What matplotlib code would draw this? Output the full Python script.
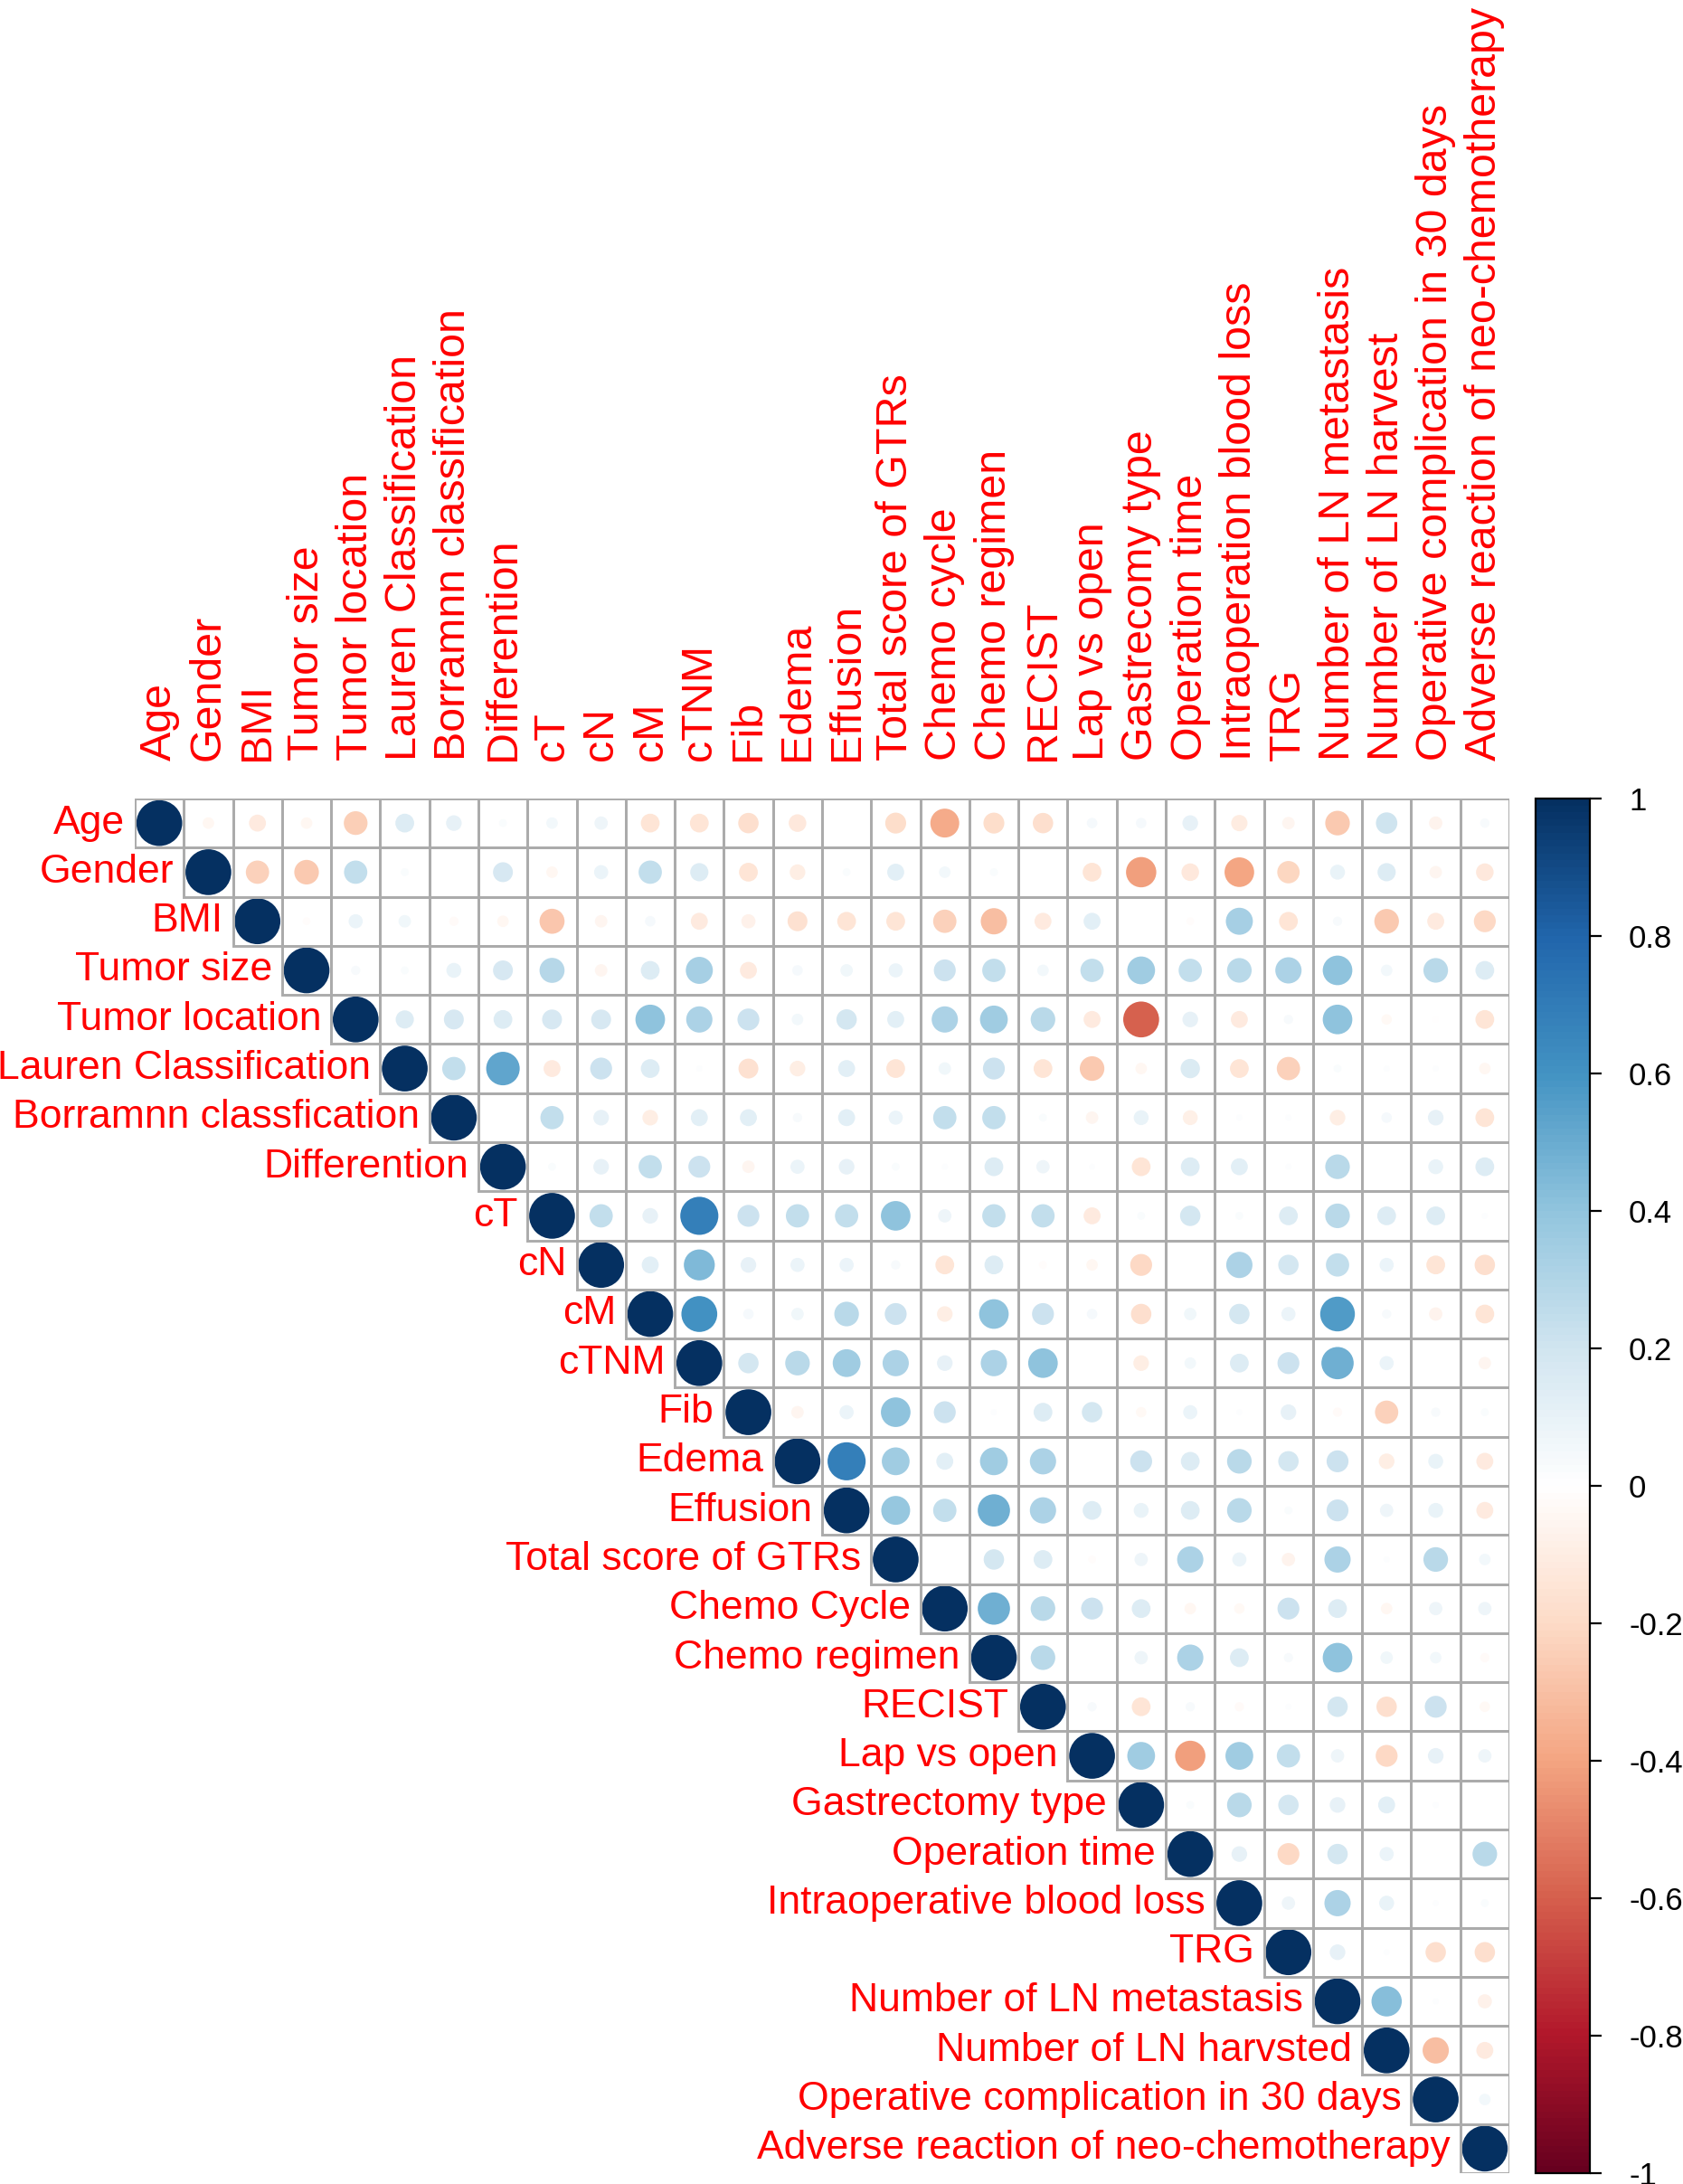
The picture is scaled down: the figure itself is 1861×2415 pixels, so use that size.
import numpy as np
import matplotlib
matplotlib.use("Agg")
import matplotlib.pyplot as plt
from matplotlib.colors import LinearSegmentedColormap, Normalize
from matplotlib.patches import Circle, Rectangle
from matplotlib.cm import ScalarMappable

plt.rcParams['font.family'] = ['Liberation Sans', 'DejaVu Sans']

col_labels = ["Age", "Gender", "BMI", "Tumor size", "Tumor location",
              "Lauren Classification", "Borramnn classification", "Differention",
              "cT", "cN", "cM", "cTNM", "Fib", "Edema", "Effusion",
              "Total score of GTRs", "Chemo cycle", "Chemo regimen", "RECIST",
              "Lap vs open", "Gastrecomy type", "Operation time",
              "Intraoperation blood loss", "TRG", "Number of LN metastasis",
              "Number of LN harvest", "Operative complication in 30 days",
              "Adverse reaction of neo-chemotherapy"]
row_labels = ["Age", "Gender", "BMI", "Tumor size", "Tumor location",
              "Lauren Classification", "Borramnn classfication", "Differention",
              "cT", "cN", "cM", "cTNM", "Fib", "Edema", "Effusion",
              "Total score of GTRs", "Chemo Cycle", "Chemo regimen", "RECIST",
              "Lap vs open", "Gastrectomy type", "Operation time",
              "Intraoperative blood loss", "TRG", "Number of LN metastasis",
              "Number of LN harvsted", "Operative complication in 30 days",
              "Adverse reaction of neo-chemotherapy"]

# upper-triangle correlations: row i lists values for columns i+1 .. 27
upper_rows = [
    [-0.05, -0.12, -0.05, -0.25, 0.15, 0.10, 0.02, 0.05, 0.07, -0.15, -0.15, -0.18, -0.13, 0.0,
     -0.19, -0.38, -0.19, -0.18, 0.04, 0.04, 0.10, -0.11, -0.06, -0.27, 0.20, -0.07, 0.03],
    [-0.24, -0.27, 0.24, 0.02, 0.0, 0.17, -0.05, 0.08, 0.24, 0.14, -0.15, -0.10, 0.02, 0.12,
     0.05, 0.02, 0.0, -0.15, -0.42, -0.13, -0.40, -0.22, 0.09, 0.14, -0.06, -0.13],
    [-0.02, 0.08, 0.06, -0.03, -0.05, -0.28, -0.06, 0.04, -0.12, -0.08, -0.17, -0.15, -0.15,
     -0.24, -0.31, -0.12, 0.12, 0.0, -0.02, 0.33, -0.15, 0.03, -0.27, -0.12, -0.21],
    [0.03, 0.02, 0.09, 0.17, 0.28, -0.06, 0.15, 0.33, -0.12, 0.04, 0.06, 0.08, 0.21, 0.24,
     0.05, 0.24, 0.35, 0.24, 0.27, 0.31, 0.40, 0.05, 0.27, 0.15],
    [0.14, 0.17, 0.15, 0.17, 0.17, 0.40, 0.31, 0.21, 0.05, 0.18, 0.12, 0.31, 0.35, 0.27, -0.12,
     -0.60, 0.10, -0.12, 0.03, 0.40, -0.04, -0.01, -0.15],
    [0.24, 0.52, -0.12, 0.21, 0.15, 0.01, -0.17, -0.10, 0.12, -0.15, 0.06, 0.21, -0.15, -0.27,
     -0.05, 0.16, -0.15, -0.24, 0.02, 0.01, 0.01, -0.05],
    [0.0, 0.24, 0.10, -0.10, 0.12, 0.12, 0.03, 0.12, 0.08, 0.24, 0.24, 0.02, -0.06, 0.09,
     -0.09, 0.01, 0.01, -0.10, 0.04, 0.10, -0.15],
    [0.02, 0.10, 0.24, 0.21, -0.06, 0.08, 0.10, 0.02, 0.01, 0.15, 0.07, 0.01, -0.15, 0.15,
     0.12, 0.01, 0.27, 0.0, 0.09, 0.15],
    [0.24, 0.10, 0.68, 0.21, 0.24, 0.24, 0.40, 0.07, 0.24, 0.24, -0.12, 0.02, 0.18, 0.02, 0.15,
     0.27, 0.15, 0.15, 0.01],
    [0.12, 0.44, 0.10, 0.08, 0.08, 0.03, -0.15, 0.15, -0.02, -0.05, -0.21, 0.0, 0.31, 0.18,
     0.24, 0.08, -0.15, -0.18],
    [0.60, 0.04, 0.06, 0.27, 0.21, -0.10, 0.40, 0.21, 0.04, -0.18, 0.06, 0.18, 0.08, 0.56,
     0.03, -0.07, -0.15],
    [0.18, 0.27, 0.35, 0.31, 0.10, 0.31, 0.40, 0.0, -0.10, 0.05, 0.15, 0.21, 0.48, 0.08, 0.0,
     -0.06],
    [-0.06, 0.08, 0.40, 0.21, 0.01, 0.15, 0.18, -0.04, 0.08, 0.01, 0.10, -0.03, -0.24, 0.03,
     0.02],
    [0.68, 0.35, 0.12, 0.35, 0.31, 0.0, 0.21, 0.15, 0.27, 0.18, 0.21, -0.10, 0.09, -0.12],
    [0.38, 0.24, 0.48, 0.31, 0.15, 0.09, 0.15, 0.27, 0.02, 0.21, 0.07, 0.09, -0.12],
    [0.0, 0.18, 0.15, -0.02, 0.07, 0.31, 0.08, -0.07, 0.31, 0.01, 0.27, 0.05],
    [0.48, 0.27, 0.21, 0.15, -0.05, -0.04, 0.21, 0.15, -0.05, 0.07, 0.07],
    [0.27, 0.0, 0.07, 0.31, 0.15, 0.03, 0.40, 0.06, 0.05, -0.03],
    [0.03, -0.15, 0.03, -0.03, 0.01, 0.18, -0.18, 0.21, -0.04],
    [0.35, -0.42, 0.35, 0.24, 0.07, -0.21, 0.10, 0.07],
    [0.02, 0.27, 0.18, 0.10, 0.12, 0.01, 0.0],
    [0.10, -0.21, 0.18, 0.08, 0.0, 0.27],
    [0.07, 0.31, 0.09, 0.01, 0.02],
    [0.10, 0.01, -0.18, -0.18],
    [0.42, 0.01, -0.08],
    [-0.31, -0.12],
    [0.05],
]

cbar_ticks = [1, 0.8, 0.6, 0.4, 0.2, 0, -0.2, -0.4, -0.6, -0.8, -1]
cbar_ticklabels = ["1", "0.8", "0.6", "0.4", "0.2", "0", "-0.2", "-0.4", "-0.6", "-0.8", "-1"]

n = len(row_labels)
corr = np.eye(n)
for i, vals in enumerate(upper_rows):
    for k, v in enumerate(vals):
        j = i + 1 + k
        corr[i, j] = v
        corr[j, i] = v

cmap = LinearSegmentedColormap.from_list(
    "corrRdBu", ["#67001F", "#B2182B", "#D6604D", "#F4A582", "#FDDBC7", "#FFFFFF",
                 "#D1E5F0", "#92C5DE", "#4393C3", "#2166AC", "#053061"], N=200)
norm = Normalize(-1, 1)

W, H = 1861, 2415
fig = plt.figure(figsize=(W / 100, H / 100), dpi=100)
gx0, gy0, gs = 149, 883, 1520
ax = fig.add_axes([gx0 / W, 1 - (gy0 + gs) / H, gs / W, gs / H])
ax.set_xlim(0, n)
ax.set_ylim(n, 0)
ax.set_aspect('equal')
ax.axis('off')

grid_col = "#ABABAB"
for i in range(n):
    for j in range(i, n):
        ax.add_patch(Rectangle((j, i), 1, 1, facecolor="white", edgecolor="none", zorder=1))
for i in range(n):
    for j in range(i, n):
        r = corr[i, j]
        rad = 0.9 * np.sqrt(abs(r)) / 2
        if rad > 0:
            c = cmap(norm(r))
            ax.add_patch(Circle((j + 0.5, i + 0.5), rad, facecolor=c, edgecolor=c,
                                linewidth=1.3, zorder=2))
for i in range(n):
    for j in range(i, n):
        ax.add_patch(Rectangle((j, i), 1, 1, facecolor="none", edgecolor=grid_col,
                               linewidth=2.1, zorder=3))

for j, lab in enumerate(col_labels):
    ax.text(j + 0.5, -0.78, lab, rotation=90, ha='center', va='bottom',
            color='#FF0000', fontsize=34.8, clip_on=False)
for i, lab in enumerate(row_labels):
    ax.text(i - 0.2, i + 0.5, lab, ha='right', va='center',
            color='#FF0000', fontsize=32, clip_on=False)

cax = fig.add_axes([1698 / W, 1 - (gy0 + gs) / H, 60 / W, gs / H])
sm = ScalarMappable(norm=norm, cmap=cmap)
cb = fig.colorbar(sm, cax=cax, ticks=cbar_ticks)
cb.ax.set_yticklabels(cbar_ticklabels)
cb.ax.tick_params(labelsize=25, length=9, width=1.6, pad=22, direction='out')
cb.outline.set_linewidth(1.6)

fig.savefig("out.png", dpi=100)
